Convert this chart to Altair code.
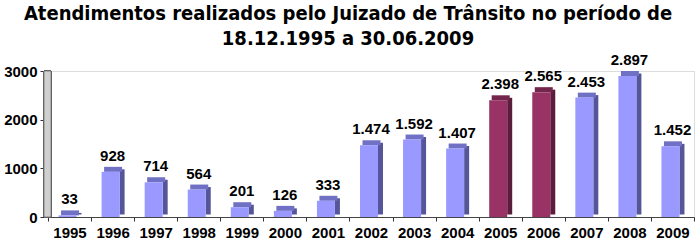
import altair as alt
import pandas as pd

years = ["1995", "1996", "1997", "1998", "1999", "2000", "2001", "2002",
         "2003", "2004", "2005", "2006", "2007", "2008", "2009"]
values = [33, 928, 714, 564, 201, 126, 333, 1474, 1592, 1407, 2398, 2565, 2453, 2897, 1452]
highlight = ["n", "n", "n", "n", "n", "n", "n", "n", "n", "n", "y", "y", "n", "n", "n"]

df = pd.DataFrame({
    "ano": years,
    "valor": values,
    "grupo": highlight,
    "rotulo": [f"{v:,}".replace(",", ".") for v in values],
})

x_enc = alt.X("ano:N", sort=years, title=None,
              scale=alt.Scale(paddingInner=0, paddingOuter=0),
              axis=alt.Axis(labelAngle=0, labelFont="Liberation Sans", labelFontSize=15,
                            labelFontWeight="bold", labelColor="black", tickBand="extent",
                            tickSize=4, tickColor="#333", domainColor="#444",
                            labelPadding=4, grid=False))
y_enc = alt.Y("valor:Q", title=None,
              scale=alt.Scale(domain=[0, 3000], nice=False),
              axis=alt.Axis(values=[0, 500, 1000, 1500, 2000, 2500, 3000], format="d",
                            labelFont="Liberation Sans", labelFontSize=15,
                            labelFontWeight="bold", labelColor="black",
                            gridColor="#333", gridWidth=1, tickColor="#333",
                            tickSize=4, domainColor="#444", offset=4, labelPadding=3))

base = alt.Chart(df)

wall = base.mark_rect(color="#d0d0d0", stroke="#666", strokeWidth=0.7).encode(
    x=alt.value(-4), x2=alt.value(3),
    y=alt.datum(0), y2=alt.datum(3000),
)

side = base.mark_bar(width=5, xOffset=9.5, yOffset=-2.5).encode(
    x=x_enc, y=y_enc,
    color=alt.Color("grupo:N", scale=alt.Scale(domain=["n", "y"], range=["#55559A", "#5A1E3C"]), legend=None)
)
top = base.mark_tick(size=18, thickness=5, xOffset=0.5, yOffset=-2.5, orient="horizontal", opacity=1).encode(
    x=alt.X("ano:N", sort=years), y=alt.Y("valor:Q"),
    color=alt.Color("grupo:N", scale=alt.Scale(domain=["n", "y"], range=["#7070C4", "#74264D"]), legend=None),
)
front = base.mark_bar(width=18, xOffset=-2).encode(
    x=alt.X("ano:N", sort=years), y=alt.Y("valor:Q"),
    color=alt.Color("grupo:N", scale=alt.Scale(domain=["n", "y"], range=["#9999FF", "#993366"]), legend=None),
)
labels = base.mark_text(font="Liberation Sans", fontSize=15, fontWeight="bold",
                        baseline="bottom", dy=-8, color="black").encode(
    x=alt.X("ano:N", sort=years), y=alt.Y("valor:Q"), text="rotulo:N"
)

chart = alt.layer(wall, side, top, front, labels).resolve_scale(color="independent").properties(
    width=646, height=146,
    autosize=alt.AutoSizeParams(type="none"),
    padding={"left": 48, "top": 71, "right": 6, "bottom": 26},
    title=alt.TitleParams(
        text=["Atendimentos realizados pelo Juizado de Trânsito no período de",
              "18.12.1995 a 30.06.2009"],
        font="DejaVu Sans Condensed", fontSize=20, fontWeight="bold", color="black",
        anchor="middle", dx=-23, offset=4, lineHeight=25,
    ),
).configure_view(stroke=None).configure(background="white")

chart.save("out.html", embed_options={"renderer": "svg", "actions": False})
